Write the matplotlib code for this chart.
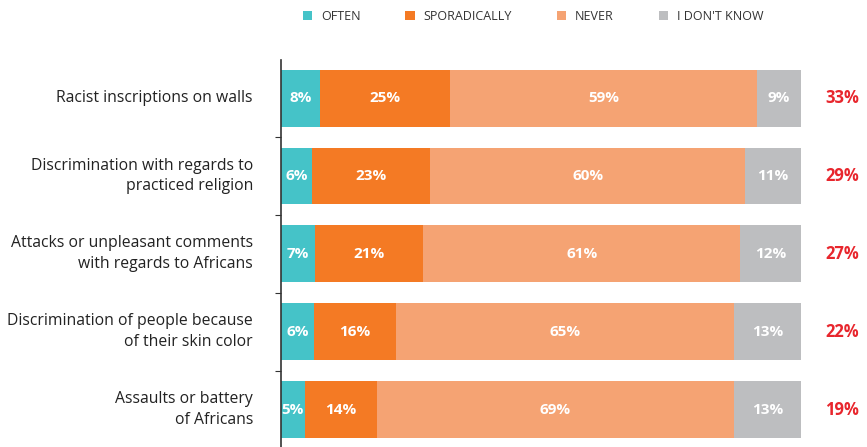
import matplotlib.pyplot as plt
from matplotlib.patches import Patch

plt.rcParams['font.family'] = ['Open Sans', 'DejaVu Sans']

#data
cats = ['Racist inscriptions on walls',
        'Discrimination with regards to\npracticed religion',
        'Attacks or unpleasant comments\nwith regards to Africans',
        'Discrimination of people because\nof their skin color',
        'Assaults or battery\nof Africans']
often = [7.5, 6.0, 6.6, 6.3, 4.6]
sporadically = [25.0, 22.7, 20.8, 15.8, 13.8]
never = [59.0, 60.6, 60.9, 65.0, 68.7]
dontknow = [8.5, 10.7, 11.7, 12.9, 12.9]
often_lbl = ['8%', '6%', '7%', '6%', '5%']
spor_lbl = ['25%', '23%', '21%', '16%', '14%']
never_lbl = ['59%', '60%', '61%', '65%', '69%']
dk_lbl = ['9%', '11%', '12%', '13%', '13%']
total_lbl = ['33%', '29%', '27%', '22%', '19%']

series = ['OFTEN', 'SPORADICALLY', 'NEVER', "I DON'T KNOW"]
colors = ['#45C3C8', '#F47A24', '#F5A373', '#BDBEC0']

fig = plt.figure(figsize=(8.67, 4.47), dpi=100)
ax = fig.add_axes([281/867, 0, 520/867, 387/447])

y = list(range(len(cats)))
left = [0]*len(cats)
for vals, lbls, c in zip([often, sporadically, never, dontknow],
                         [often_lbl, spor_lbl, never_lbl, dk_lbl], colors):
    bars = ax.barh(y, vals, left=left, height=0.73, color=c, edgecolor='none')
    for b, l in zip(bars, lbls):
        ax.text(b.get_x() + b.get_width()/2, b.get_y() + b.get_height()/2, l,
                ha='center', va='center', color='white', fontsize=11, fontweight='bold')
    left = [a + b for a, b in zip(left, vals)]

for i, l in enumerate(total_lbl):
    ax.text(107.9, i, l, ha='center', va='center', color='#E8262D',
            fontsize=12, fontweight='bold', clip_on=False)

ax.set_xlim(0, 100)
ax.set_ylim(4.48, -0.49)
for s in ['top', 'right', 'bottom']:
    ax.spines[s].set_visible(False)
ax.spines['left'].set_color('#333333')
ax.spines['left'].set_linewidth(1.2)
ax.set_xticks([])
ax.set_yticks([0.5, 1.5, 2.5, 3.5])
ax.set_yticklabels([])
ax.tick_params(axis='y', length=4, color='#333333')
for i, c in enumerate(cats):
    ax.text(-5.4, i, c, ha='right', va='center', fontsize=11.3, color='#222222',
            linespacing=1.4)

handles = [Patch(facecolor=c, edgecolor='none') for c in colors]
fig.legend(handles, series, loc='center', bbox_to_anchor=(533/867, 1 - 16/447), ncol=4,
           frameon=False, fontsize=9, handlelength=0.75, handleheight=0.75,
           handletextpad=0.7, columnspacing=3.6, labelcolor='#333333')

plt.savefig('out.png')
